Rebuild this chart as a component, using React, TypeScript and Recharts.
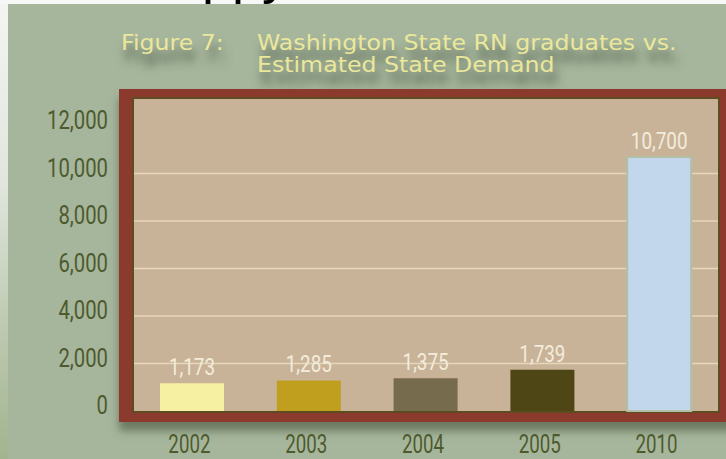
import { BarChart, Bar, XAxis, YAxis, CartesianGrid, Cell, LabelList } from 'recharts';

const years = ['2002', '2003', '2004', '2005', '2010'];
const graduates = [1173, 1285, 1375, 1739, 10700];
const yTicks = [0, 2000, 4000, 6000, 8000, 10000, 12000];
const gridValues = [2000, 4000, 6000, 8000, 10000];

const barColors = ['#f6f1a2', '#c09f1e', '#776b4d', '#4e4715', '#c3d7ec'];
const barStrokes = ['none', 'none', 'none', 'none', '#b2bfa6'];

const data = years.map((year, i) => ({ year, value: graduates[i] }));

const font = 'Roboto, sans-serif';
const titleFont = "'DejaVu Sans', sans-serif";
const olive = '#4e5a2d';

function formatNum(v: number | string): string {
  return Number(v).toLocaleString('en-US');
}

// the original uses a condensed face, so squeeze Roboto horizontally
function YTick({ x, y, payload }: any) {
  return (
    <g transform={`translate(${x},${y - 6})`}>
      <text transform="scale(0.78,1)" textAnchor="end" dy="0.36em" fontFamily={font} fontSize={26} fill={olive}>
        {formatNum(payload.value)}
      </text>
    </g>
  );
}

function XTick({ x, y, payload }: any) {
  return (
    <g transform={`translate(${x - 3},${y})`}>
      <text transform="scale(0.72,1)" textAnchor="middle" dy="0.72em" fontFamily={font} fontSize={26} fill={olive}>
        {payload.value}
      </text>
    </g>
  );
}

function ValueLabel({ x, y, width, value }: any) {
  return (
    <g transform={`translate(${x + width / 2},${y - 8})`}>
      <text transform="scale(0.82,1)" textAnchor="middle" fontFamily={font} fontSize={23} fill="#f3ecdc">
        {formatNum(value)}
      </text>
    </g>
  );
}

const titleStyle = {
  position: 'absolute' as const,
  top: 32,
  fontFamily: titleFont,
  fontSize: 21.5,
  color: '#ebe79b',
  lineHeight: '22.4px',
  textShadow: '3px 12px 9px rgba(50,60,45,0.75)',
  whiteSpace: 'nowrap' as const,
  transform: 'scaleX(1.1)',
  transformOrigin: '0 0',
};

export default function App() {
  return (
    <div style={{ position: 'absolute', left: 0, top: 0, width: 726, height: 459, overflow: 'hidden', background: '#a6b69c' }}>
      {/* white slide edge at top and left, with the bottom of a cut-off line of text */}
      <svg width={726} height={4} style={{ position: 'absolute', left: 0, top: 0, display: 'block' }}>
        <rect x={0} y={0} width={726} height={4} fill="#f7f7f5" />
        <text x={202} y={-7} fontFamily="'Liberation Sans', Arial, sans-serif" fontSize={54} fill="#000">ppy</text>
      </svg>
      <div style={{ position: 'absolute', left: 0, top: 4, width: 8, height: 455, background: 'linear-gradient(to bottom, #f4f5f2 0%, #dfe5dc 40%, #bfcab2 70%, #a2b48f 100%)' }} />

      {/* title */}
      <div style={{ ...titleStyle, left: 121 }}>Figure 7:</div>
      <div style={{ ...titleStyle, left: 257 }}>
        Washington State RN graduates vs.
        <br />
        Estimated State Demand
      </div>

      {/* plot frame */}
      <div style={{ position: 'absolute', left: 119, top: 89, width: 620, height: 333, background: '#8d3a2e', boxShadow: '0 9px 8px rgba(60,75,50,0.55)' }} />
      <div style={{ position: 'absolute', left: 132, top: 97, width: 588, height: 316, background: '#5e4b1f' }} />
      <div style={{ position: 'absolute', left: 134, top: 99, width: 584, height: 312, background: '#c9b398' }} />

      <div style={{ position: 'absolute', left: 0, top: 0 }}>
        <BarChart width={726} height={459} data={data} margin={{ top: 100, right: 8, left: 74, bottom: 18 }} barSize={64}>
          <CartesianGrid horizontal vertical={false} horizontalValues={gridValues} stroke="#e6d6bc" strokeWidth={1.5} />
          <XAxis
            dataKey="year"
            axisLine={false}
            tickLine={false}
            height={30}
            tickSize={0}
            tickMargin={23}
            tick={<XTick />}
          />
          <YAxis
            type="number"
            domain={[0, 13100]}
            ticks={yTicks}
            interval={0}
            width={60}
            axisLine={false}
            tickLine={false}
            tickSize={0}
            tickMargin={26}
            tick={<YTick />}
          />
          <Bar dataKey="value" isAnimationActive={false}>
            {data.map((d, i) => (
              <Cell key={d.year} fill={barColors[i]} stroke={barStrokes[i]} strokeWidth={2} />
            ))}
            <LabelList dataKey="value" content={<ValueLabel />} />
          </Bar>
        </BarChart>
      </div>
    </div>
  );
}
